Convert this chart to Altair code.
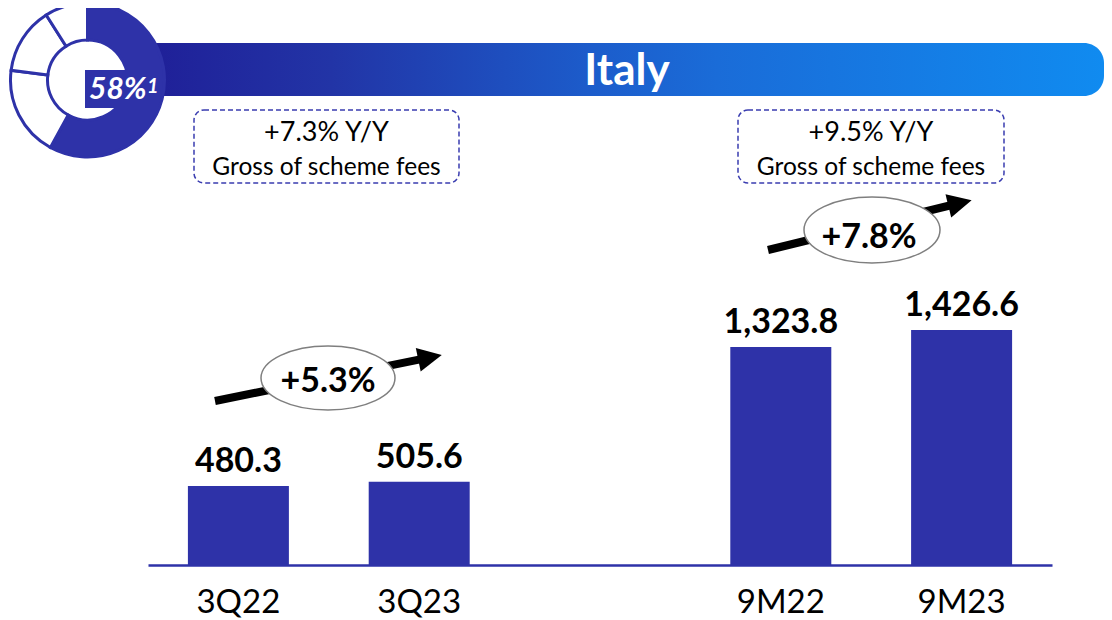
import altair as alt
import pandas as pd

# ---------------- data ----------------
categories = ["3Q22", "3Q23", "9M22", "9M23"]
values = [480.3, 505.6, 1323.8, 1426.6]
value_labels = ["480.3", "505.6", "1,323.8", "1,426.6"]
axis_slots = ["3Q22", "3Q23", " ", "9M22", "9M23"]
growth_labels = ["+5.3%", "+7.8%"]
yoy_labels = ["+7.3% Y/Y", "+9.5% Y/Y"]
yoy_note = "Gross of scheme fees"
share_names = ["Italy", "Rest A", "Rest B", "Rest C"]
share_parts = [58, 19, 14, 9]
share_label = "58%"
share_note = "1"
title_text = "Italy"

# ---------------- styles ----------------
BLUE = "#2E32A8"
FONT = "Lato"
W, H = 1044, 557
one = pd.DataFrame({"k": [0]})

x_enc = alt.X(
    "cat:N",
    sort=axis_slots,
    scale=alt.Scale(domain=axis_slots, range=[140, 1044],
                    paddingInner=0.4414, paddingOuter=0.2207),
    axis=alt.Axis(title=None, labelFont=FONT, labelFontSize=33, labelColor="black",
                  labelPadding=47, labelBaseline="alphabetic", labelAngle=0,
                  ticks=False, tickSize=0, domainColor=BLUE, domainWidth=2.5,
                  grid=False),
)
y_enc = alt.Y("val:Q", scale=alt.Scale(domain=[0, 3382], nice=False, zero=True), axis=None)

bars_df = pd.DataFrame({"cat": categories, "val": values, "lbl": value_labels})

bars = alt.Chart(bars_df).mark_bar(color=BLUE).encode(x=x_enc, y=y_enc)
bar_labels = alt.Chart(bars_df).mark_text(
    font=FONT, fontWeight="bold", fontSize=34, baseline="alphabetic", dy=-14, color="black"
).encode(x=x_enc, y=y_enc, text="lbl:N")

# banner
banner = alt.Chart(one).mark_rect(
    color=alt.Gradient(
        gradient="linear",
        stops=[
            alt.GradientStop(color="#1F1E97", offset=0),
            alt.GradientStop(color="#2234A6", offset=0.2),
            alt.GradientStop(color="#1C5CCB", offset=0.47),
            alt.GradientStop(color="#1A6CD8", offset=0.6),
            alt.GradientStop(color="#108BF0", offset=1),
        ],
        x1=0, x2=1, y1=0, y2=0,
    ),
    cornerRadiusTopRight=20, cornerRadiusBottomRight=20,
).encode(x=alt.value(130), x2=alt.value(1096), y=alt.value(35), y2=alt.value(88))

title = alt.Chart(one).mark_text(
    text=title_text, font=FONT, fontWeight="bold", fontSize=44, color="white",
    align="center", baseline="alphabetic",
).encode(x=alt.value(619), y=alt.value(77))

# donut
donut_df = pd.DataFrame({"part": share_names, "share": share_parts, "ord": [0, 1, 2, 3]})
donut = alt.Chart(donut_df).mark_arc(
    innerRadius=40, outerRadius=77, stroke=BLUE, strokeWidth=3
).encode(
    theta=alt.Theta("share:Q", stack=True),
    order=alt.Order("ord:Q"),
    color=alt.Color("part:N", scale=alt.Scale(domain=share_names,
                                              range=[BLUE, "white", "white", "white"]),
                    legend=None),
    x=alt.value(79.5), y=alt.value(72),
)
share_box = alt.Chart(one).mark_rect(color=BLUE).encode(
    x=alt.value(77), x2=alt.value(127), y=alt.value(62), y2=alt.value(100))
share_txt = alt.Chart(one).mark_text(
    text=share_label, font=FONT, fontWeight="bold", fontStyle="italic", fontSize=30,
    color="white", align="left", baseline="alphabetic",
).encode(x=alt.value(81), y=alt.value(91))
share_sup = alt.Chart(one).mark_text(
    text=share_note, font=FONT, fontWeight="bold", fontStyle="italic", fontSize=20,
    color="white", align="left", baseline="alphabetic",
).encode(x=alt.value(139), y=alt.value(85))

# dashed boxes
layers_boxes = []
for i, (x0, x1) in enumerate([(186, 451), (730, 996)]):
    cx = (x0 + x1) / 2
    layers_boxes.append(alt.Chart(one).mark_rect(
        fill="white", stroke="#3A3DB0", strokeWidth=1.5, strokeDash=[5, 3], cornerRadius=10
    ).encode(x=alt.value(x0), x2=alt.value(x1), y=alt.value(102), y2=alt.value(175)))
    layers_boxes.append(alt.Chart(one).mark_text(
        text=yoy_labels[i], font=FONT, fontSize=27, color="black", align="center",
        baseline="alphabetic").encode(x=alt.value(cx), y=alt.value(133)))
    layers_boxes.append(alt.Chart(one).mark_text(
        text=yoy_note, font=FONT, fontSize=24.5, color="black", align="center",
        baseline="alphabetic").encode(x=alt.value(cx), y=alt.value(167)))

# growth arrows with ellipses
ARROW = "M-1,-1L1,0L-1,1Z"
arrow_layers = []
arrow_specs = [
    # line start, head centre, angle, ellipse centre, ellipse rx, ratio, text centre
    ((207, 393), (422, 349.4), 348.3, (320, 370), 67, 0.478, (320, 384)),
    ((760, 242), (952, 195), 346.2, (864, 222), 68, 0.485, (861, 240)),
]
for i, (p0, p1, ang, ec, rx, ratio, tc) in enumerate(arrow_specs):
    arrow_layers.append(alt.Chart(one).mark_rule(color="black", strokeWidth=8).encode(
        x=alt.value(p0[0]), y=alt.value(p0[1]), x2=alt.value(p1[0]), y2=alt.value(p1[1])))
    arrow_layers.append(alt.Chart(one).mark_point(
        shape=ARROW, size=576, filled=True, color="black", opacity=1, angle=ang
    ).encode(x=alt.value(p1[0]), y=alt.value(p1[1])))
    ell = f"M-1,0A1,{ratio},0,1,0,1,0A1,{ratio},0,1,0,-1,0Z"
    arrow_layers.append(alt.Chart(one).mark_point(
        shape=ell, size=(2 * rx) ** 2, filled=True, fill="white", stroke="#7F7F7F",
        strokeWidth=1.5, opacity=1
    ).encode(x=alt.value(ec[0]), y=alt.value(ec[1])))
    arrow_layers.append(alt.Chart(one).mark_text(
        text=growth_labels[i], font=FONT, fontWeight="bold", fontSize=34, color="black",
        align="center", baseline="alphabetic").encode(x=alt.value(tc[0]), y=alt.value(tc[1])))

chart = alt.layer(
    banner, title, donut, share_box, share_txt, share_sup,
    *layers_boxes, *arrow_layers, bars, bar_labels,
).properties(
    width=W, height=H,
    padding={"left": 0, "top": 0, "right": 52, "bottom": 55},
    autosize=alt.AutoSizeParams(type="none"),
    background="white",
).configure_view(stroke=None)

chart.save("out.html", embed_options={"renderer": "svg", "actions": False})
